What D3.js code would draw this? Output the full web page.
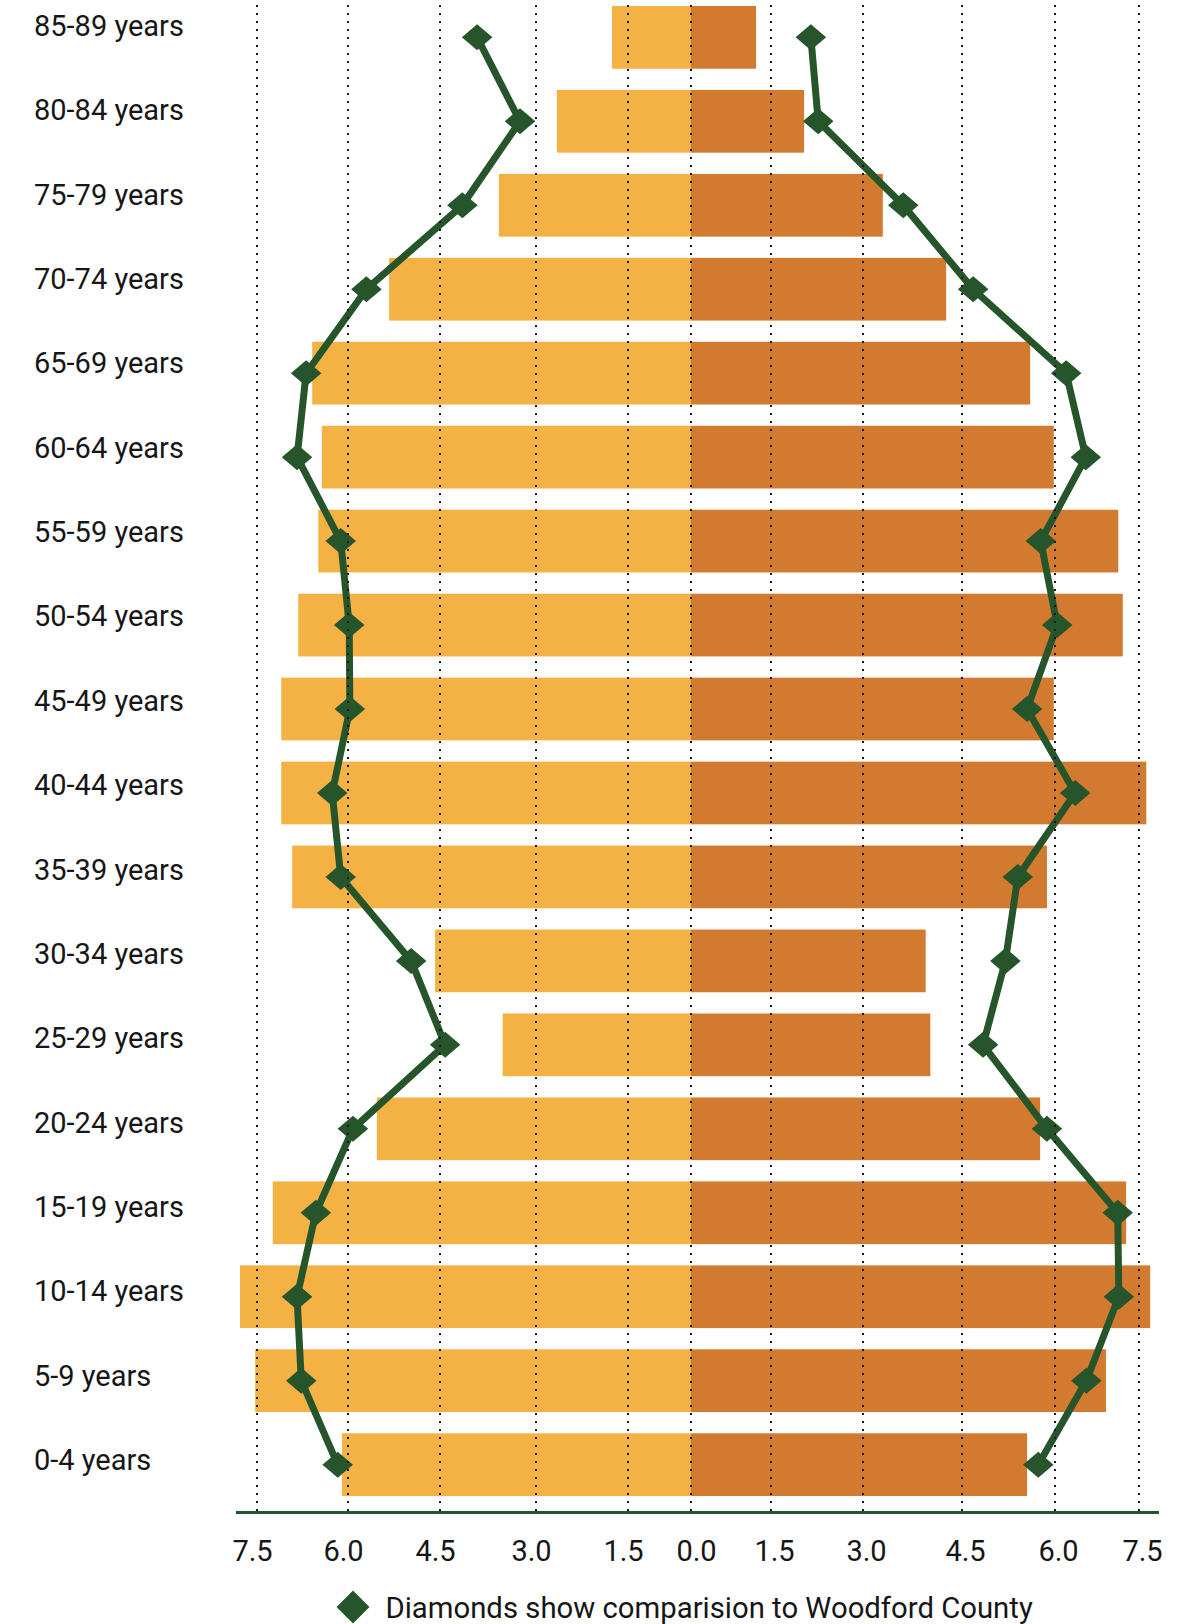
<!DOCTYPE html>
<html>
<meta charset="utf-8">
<style>
  body { margin: 0; background: #fff; }
  text { font-family: Roboto, "Open Sans", sans-serif; }
</style>

<!-- Load d3.js -->
<script src="https://d3js.org/d3.v7.min.js"></script>

<div id="pyramid"></div>
<script>
// age groups, oldest at the top
var ageGroups = ["85-89 years", "80-84 years", "75-79 years", "70-74 years", "65-69 years",
  "60-64 years", "55-59 years", "50-54 years", "45-49 years", "40-44 years", "35-39 years",
  "30-34 years", "25-29 years", "20-24 years", "15-19 years", "10-14 years", "5-9 years", "0-4 years"];

// percent of population, left half / right half of the pyramid
var leftValues  = [1.76, 2.66, 3.58, 5.33, 6.59, 6.43, 6.49, 6.82, 7.10, 7.10, 6.92, 4.58, 3.52, 5.53, 7.24, 7.78, 7.53, 6.10];
var rightValues = [1.22, 2.04, 3.30, 4.26, 5.60, 5.98, 7.13, 7.21, 5.98, 7.63, 5.87, 3.95, 4.02, 5.76, 7.27, 7.70, 6.91, 5.55];

// Woodford County comparison (diamonds)
var leftCounty  = [3.92, 3.25, 4.15, 5.70, 6.69, 6.84, 6.12, 5.98, 5.97, 6.26, 6.12, 4.97, 4.42, 5.92, 6.53, 6.84, 6.77, 6.17];
var rightCounty = [2.15, 2.27, 3.61, 4.68, 6.20, 6.55, 5.77, 6.04, 5.55, 6.36, 5.40, 5.20, 4.84, 5.87, 7.12, 7.14, 6.56, 5.73];

// tick values (left side negative so it runs outwards)
var xTicks = [-7.5, -6, -4.5, -3, -1.5, 0, 1.5, 3, 4.5, 6, 7.5];

var legendText = "Diamonds show comparision to Woodford County";

var width = 1196, height = 1624;
var leftColor = "#F3B243", rightColor = "#D27B30", green = "#27552B";

var svg = d3.select("#pyramid")
  .append("svg")
    .attr("width", width)
    .attr("height", height);

// grid in the original is not evenly spaced -> piecewise linear scale
var x = d3.scaleLinear()
    .domain(xTicks)
    .range([257, 348, 440, 536, 628, 691, 771, 863, 962, 1055, 1139]);

var y = d3.scaleBand()
    .domain(ageGroups)
    .range([6, 1496])
    .paddingInner(0.253)
    .paddingOuter(0);

// label column sits a little off the bars
var labelY = d3.scalePoint()
    .domain(ageGroups)
    .range([36, 1470]);

var axisY = 1512.5;
var mid = function(d) { return y(d) + y.bandwidth() / 2; };

// bars
svg.append("g")
  .selectAll("rect")
  .data(ageGroups)
  .join("rect")
    .attr("x", function(d, i) { return x(-leftValues[i]); })
    .attr("y", function(d) { return y(d); })
    .attr("width", function(d, i) { return x(0) - x(-leftValues[i]); })
    .attr("height", y.bandwidth())
    .attr("fill", leftColor);

svg.append("g")
  .selectAll("rect")
  .data(ageGroups)
  .join("rect")
    .attr("x", x(0))
    .attr("y", function(d) { return y(d); })
    .attr("width", function(d, i) { return x(rightValues[i]) - x(0); })
    .attr("height", y.bandwidth())
    .attr("fill", rightColor);

// county lines + diamonds
var diamond = d3.symbol().type(d3.symbolSquare).size(400);

[[leftCounty, -1], [rightCounty, 1]].forEach(function(s) {
  var vals = s[0], sign = s[1];
  var line = d3.line()
    .x(function(d, i) { return x(sign * vals[i]); })
    .y(function(d) { return mid(d); });

  svg.append("path")
    .datum(ageGroups)
    .attr("d", line)
    .attr("fill", "none")
    .attr("stroke", green)
    .attr("stroke-width", 7)
    .attr("stroke-linejoin", "round");

  svg.append("g")
    .selectAll("path")
    .data(ageGroups)
    .join("path")
      .attr("d", diamond)
      .attr("transform", function(d, i) {
        return "translate(" + x(sign * vals[i]) + "," + mid(d) + ") scale(1.08,0.92) rotate(45)";
      })
      .attr("fill", green);
});

// dotted grid on top
svg.append("g")
  .selectAll("line")
  .data(xTicks)
  .join("line")
    .attr("x1", function(d) { return x(d); })
    .attr("x2", function(d) { return x(d); })
    .attr("y1", 5)
    .attr("y2", axisY)
    .attr("stroke", "#1a1a1a")
    .attr("stroke-width", 2)
    .attr("stroke-dasharray", "2 6");

// x axis
var xAxis = svg.append("g")
    .attr("transform", "translate(0," + axisY + ")")
    .call(d3.axisBottom(x)
      .tickValues(xTicks)
      .tickSize(0)
      .tickPadding(27.6)
      .tickFormat(function(d) { return Math.abs(d).toFixed(1); }))
    .attr("font-size", 29)
    .attr("font-family", "Roboto, sans-serif")
    .attr("color", "#161616");
xAxis.select(".domain").remove();
// labels sit a bit outward of their grid lines in the original
xAxis.selectAll(".tick text")
    .attr("dx", function(d) { return d < 0 ? -5 : (d > 0 ? 3 : 5); });

svg.append("line")
    .attr("x1", x.range()[0] - 21)
    .attr("x2", x.range()[x.range().length - 1] + 20)
    .attr("y1", axisY)
    .attr("y2", axisY)
    .attr("stroke", green)
    .attr("stroke-width", 3);

// age labels
svg.append("g")
  .selectAll("text")
  .data(ageGroups)
  .join("text")
    .attr("x", 34)
    .attr("y", function(d) { return labelY(d); })
    .attr("font-size", 29)
    .attr("fill", "#161616")
    .text(function(d) { return d; });

// legend
svg.append("path")
    .attr("d", d3.symbol().type(d3.symbolSquare).size(545))
    .attr("transform", "translate(353,1607) rotate(45)")
    .attr("fill", green);

svg.append("text")
    .attr("x", 385.5)
    .attr("y", 1618)
    .attr("font-size", 29.3)
    .attr("fill", "#161616")
    .text(legendText);
</script>
</html>
